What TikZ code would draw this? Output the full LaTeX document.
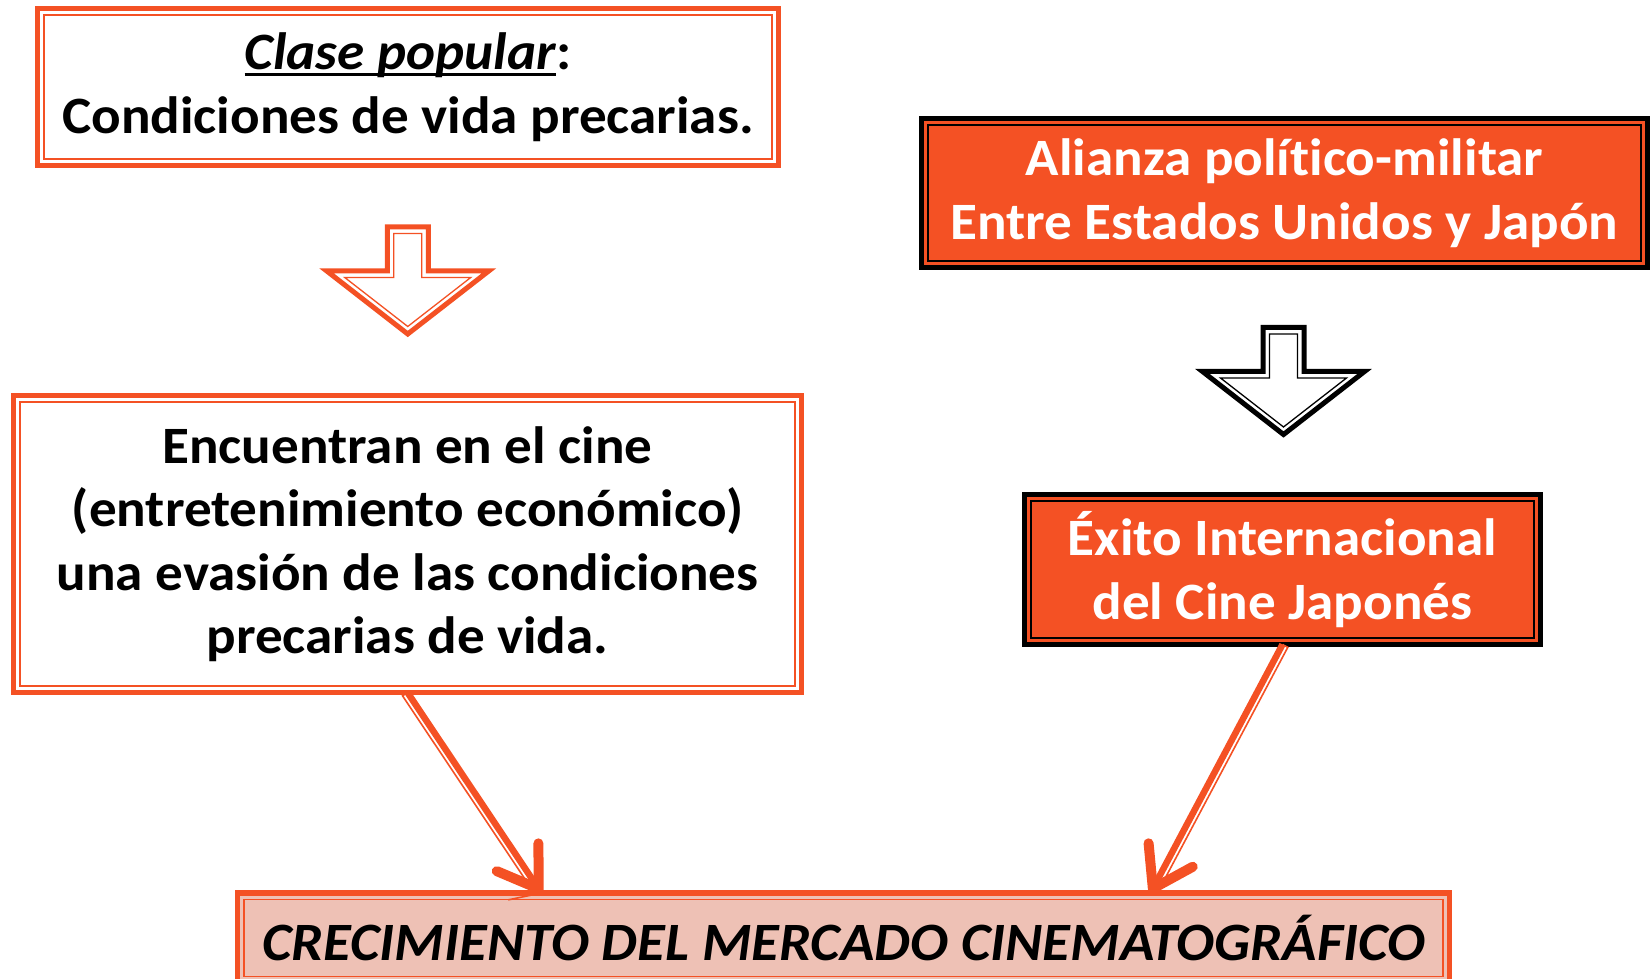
\documentclass[tikz,border=0pt]{standalone}
\usepackage{fontspec}
\setmainfont[Ligatures=NoCommon, FakeStretch=1.05]{Carlito}
\usetikzlibrary{arrows.meta}
\usetikzlibrary{decorations}
\usetikzlibrary{calc}

\definecolor{naranja}{RGB}{244,81,36}
\definecolor{rosa}{RGB}{238,193,181}

\newcommand\subrayar[1]{\setbox0\hbox{#1}\rlap{\rule[-6pt]{\wd0}{3pt}}\box0}

\tikzset{
	caja/.style={draw=naranja, line width=5.5pt, fill=white, inner sep=0pt, outer sep=0pt, align=center, font=\bfseries\fontsize{52.5}{63.5}\selectfont},
	cajanegra/.style={caja, draw=black, fill=naranja, text=white},
	cajafinal/.style={caja, fill=rosa, font=\bfseries\itshape\fontsize{54}{63.5}\selectfont},
	flecha/.style={naranja, line width=6.5pt, -{Straight Barb[length=38pt, width=50pt, line width=10pt, round]},
		postaction={draw, arrows=-, line width=1.6pt, shorten >=34pt, decorate, decoration={curveto, raise=#1}}},
	bloque/.style={line width=5pt, fill=white},
}

\begin{document}
\begin{tikzpicture}[x=1pt, y=1pt]
	\useasboundingbox (0,0) rectangle (1652,979);

	\node[caja, minimum width=741pt, minimum height=157pt] (b1) at (408, 892) {\subrayar{\textit{Clase popular}}:\\Condiciones de vida precarias.};
	\node[caja, minimum width=788pt, minimum height=297pt] (b2) at (407.5, 435) {Encuentran en el cine\\(entretenimiento económico)\\una evasión de las condiciones\\precarias de vida.};
	\node[cajanegra, minimum width=726pt, minimum height=149pt] (b3) at (1284.5, 786) {Alianza político-militar\\Entre Estados Unidos y Japón};
	\node[cajanegra, minimum width=516pt, minimum height=150pt] (b4) at (1282.5, 409.5) {Éxito Internacional\\del Cine Japonés};
	\node[cajafinal, minimum width=1212pt, minimum height=90pt] (b5) at (843.5, 41) {CRECIMIENTO DEL MERCADO CINEMATOGRÁFICO};

	% lineas interiores
	\foreach \n/\col in {b1/naranja, b2/naranja, b3/black, b4/black, b5/naranja}
		\draw[draw=\col, line width=1.5pt] ([shift={(6.5,-6.5)}]\n.north west) rectangle ([shift={(-6.5,6.5)}]\n.south east);

	\coordinate (a1) at ($(b1.south)!0.5!(b2.north)$);
	\coordinate (a2) at ($(b3.south)!0.5!(b4.north)$);

	\foreach \a/\col in {a1/naranja, a2/black} {
		\draw[bloque, draw=\col, shift={(\a)}] (-20.5,53.5) -- (20.5,53.5) -- (20.5,9.5) -- (81,9.5) -- (0,-53.5) -- (-81,9.5) -- (-20.5,9.5) -- cycle;
		\draw[draw=\col, line width=1.3pt, shift={(\a)}] (-14,47) -- (14,47) -- (14,3) -- (63,3) -- (0,-46) -- (-63,3) -- (-14,3) -- cycle;
	}

	\draw[flecha=-6pt] (b2.south) -- ([xshift=-302pt]b5.north);
	\draw[flecha=6pt] (b4.south) -- ([xshift=307pt]b5.north);

\end{tikzpicture}
\end{document}
